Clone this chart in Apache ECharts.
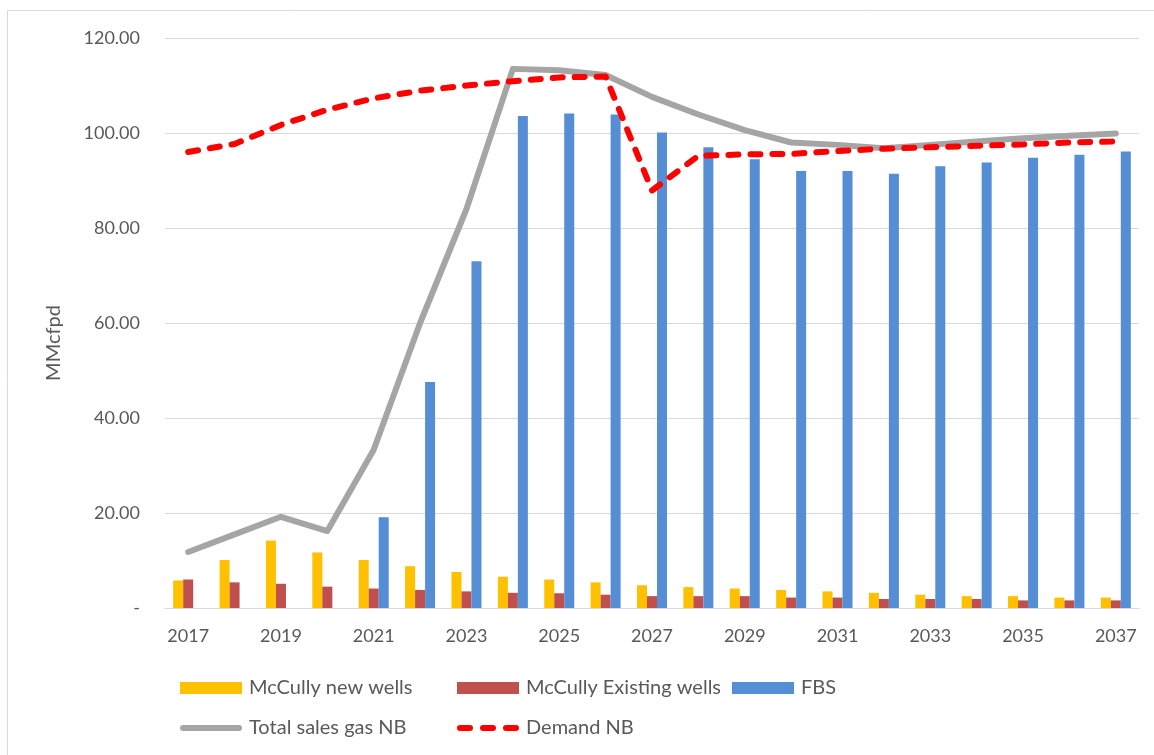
<!DOCTYPE html>
<html>
<head>
<meta charset="utf-8">
<script src="https://cdn.jsdelivr.net/npm/echarts@6/dist/echarts.min.js"></script>
<style>
  html, body { margin: 0; padding: 0; background: #fff; }
  #chart { width: 1154px; height: 755px; }
</style>
</head>
<body>
<div id="chart"></div>
<script>
// Gas supply vs demand, MMcfpd
const years = ['2017','2018','2019','2020','2021','2022','2023','2024','2025','2026','2027',
               '2028','2029','2030','2031','2032','2033','2034','2035','2036','2037'];
const mcCullyNew = [5.8, 10.1, 14.2, 11.7, 10.1, 8.8, 7.6, 6.6, 6.0, 5.4, 4.8,
                    4.4, 4.1, 3.8, 3.5, 3.2, 2.8, 2.5, 2.5, 2.2, 2.2];
const mcCullyExisting = [6.0, 5.4, 5.1, 4.5, 4.1, 3.8, 3.5, 3.2, 3.1, 2.8, 2.5,
                         2.5, 2.5, 2.2, 2.2, 1.9, 1.9, 1.9, 1.6, 1.6, 1.6];
const fbs = [0, 0, 0, 0, 19.1, 47.6, 73.0, 103.6, 104.1, 103.9, 100.1,
             97.0, 94.5, 92.0, 92.0, 91.4, 93.0, 93.8, 94.8, 95.4, 96.1];
const totalSalesNB = [11.8, 15.5, 19.2, 16.2, 33.3, 60.0, 84.0, 113.5, 113.2, 112.2, 107.6,
                      103.9, 100.6, 98.0, 97.5, 96.8, 97.5, 98.2, 98.9, 99.4, 99.9];
const demandNB = [96.0, 97.7, 101.7, 104.9, 107.3, 108.9, 110.0, 110.9, 111.7, 111.9, 87.9,
                  95.2, 95.5, 95.6, 96.2, 96.7, 97.0, 97.3, 97.6, 98.0, 98.2];
const yTickLabels = ['-', '20.00', '40.00', '60.00', '80.00', '100.00', '120.00'];
const yAxisTitle = 'MMcfpd';

const FONT = 'Lato';
const TXT = '#595959';

// legend glyphs for the two line series
const SOLID_ICON = 'path://M3,0h56a3,3 0 0 1 0,6h-56a3,3 0 0 1 0,-6z';
const DASH_ICON = 'path://M3,0h10a3,3 0 0 1 0,6h-10a3,3 0 0 1 0,-6z' +
                  'M26,0h10a3,3 0 0 1 0,6h-10a3,3 0 0 1 0,-6z' +
                  'M49,0h10a3,3 0 0 1 0,6h-10a3,3 0 0 1 0,-6z';

const chart = echarts.init(document.getElementById('chart'), null, { renderer: 'canvas' });

function legendAt(name, left, top, icon, h) {
  return {
    data: [{ name: name, icon: icon }], left: left, top: top, orient: 'horizontal',
    itemWidth: 62, itemHeight: h, itemGap: 0,
    textStyle: { fontFamily: FONT, fontSize: 20, color: TXT, padding: [0, 0, 0, 2] },
    selectedMode: false, padding: 0
  };
}

chart.setOption({
  backgroundColor: '#ffffff',
  animation: false,
  grid: { left: 165, right: 15, top: 38, bottom: 147, containLabel: false },
  graphic: [
    { type: 'line', shape: { x1: 7, y1: 10.5, x2: 1154, y2: 10.5 }, style: { stroke: '#d9d9d9', lineWidth: 1 } },
    { type: 'line', shape: { x1: 7.5, y1: 10, x2: 7.5, y2: 755 }, style: { stroke: '#d9d9d9', lineWidth: 1 } },
    { type: 'text', x: 54, y: 343, rotation: Math.PI / 2,
      style: { text: yAxisTitle, fill: TXT, font: '20px Lato', align: 'center', verticalAlign: 'middle' } }
  ],
  legend: [
    legendAt('McCully new wells', 180, 678, 'rect', 12),
    legendAt('McCully Existing wells', 457, 678, 'rect', 12),
    legendAt('FBS', 732, 678, 'rect', 12),
    legendAt('Total sales gas NB', 180, 718, SOLID_ICON, 6),
    legendAt('Demand NB', 457, 718, DASH_ICON, 6)
  ],
  xAxis: {
    type: 'category',
    data: years,
    boundaryGap: true,
    axisLine: { show: true, lineStyle: { color: '#d9d9d9', width: 1 } },
    axisTick: { show: false },
    axisLabel: { interval: 1, fontFamily: FONT, fontSize: 18, color: TXT, margin: 19 }
  },
  yAxis: {
    type: 'value',
    min: 0, max: 120, interval: 20,
    axisLine: { show: false },
    axisTick: { show: false },
    splitLine: { lineStyle: { color: '#d9d9d9', width: 1 } },
    axisLabel: {
      fontFamily: FONT, fontSize: 18, color: TXT, margin: 25,
      formatter: v => yTickLabels[Math.round(v / 20)]
    }
  },
  series: [
    { name: 'McCully new wells', type: 'bar', data: mcCullyNew, barWidth: 10, barGap: '0%',
      itemStyle: { color: '#FFC000' } },
    { name: 'McCully Existing wells', type: 'bar', data: mcCullyExisting, barWidth: 10, barGap: '0%',
      itemStyle: { color: '#C0504D' } },
    { name: 'FBS', type: 'bar', data: fbs, barWidth: 10, barGap: '0%',
      itemStyle: { color: '#558ED5' } },
    { name: 'Total sales gas NB', type: 'line', data: totalSalesNB, symbol: 'none',
      itemStyle: { color: '#A5A5A5' },
      lineStyle: { color: '#A5A5A5', width: 6, cap: 'round', join: 'round' } },
    { name: 'Demand NB', type: 'line', data: demandNB, symbol: 'none',
      itemStyle: { color: '#FF0000' },
      lineStyle: { color: '#FF0000', width: 6, type: [10, 12], cap: 'round', join: 'round' } }
  ]
});
</script>
</body>
</html>
